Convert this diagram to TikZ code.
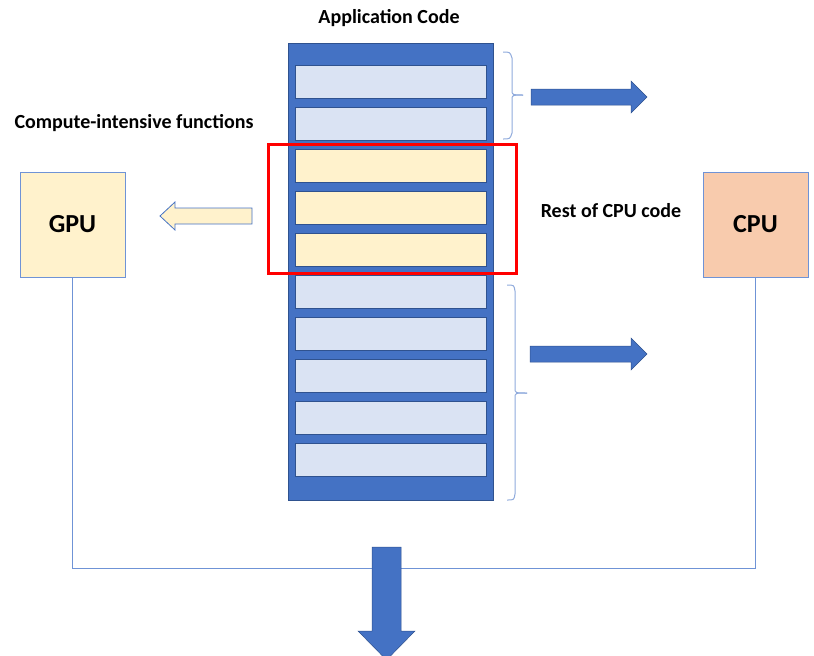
\documentclass[tikz,border=0pt]{standalone}
\usepackage{fontspec}
\setmainfont{Carlito}
\definecolor{mainblue}{HTML}{4472C4}
\definecolor{darkblue}{HTML}{2F528F}
\definecolor{lightblue}{HTML}{DAE3F3}
\definecolor{lightyellow}{HTML}{FFF2CC}
\definecolor{peach}{HTML}{F8CBAD}
\definecolor{bracecol}{HTML}{8FAADC}
\definecolor{linecol}{HTML}{6F93D6}
\begin{document}
\begin{tikzpicture}[x=1pt,y=-1pt,
 codebox/.style={draw=darkblue, line width=0.8pt, fill=lightblue, minimum width=191pt, minimum height=33pt, inner sep=0pt, anchor=north west},
 hotbox/.style={codebox, fill=lightyellow},
 unit/.style={draw=linecol, line width=0.8pt, minimum width=105pt, minimum height=105pt, inner sep=0pt, font=\bfseries\fontsize{26}{31}\selectfont},
 lbl/.style={font=\bfseries\fontsize{20}{24}\selectfont, inner sep=0pt},
 blockarrow/.style={fill=mainblue, draw=darkblue, line width=0.5pt},
 bracestyle/.style={draw=bracecol, line width=1pt},
 link/.style={draw=linecol, line width=0.9pt},
]
\useasboundingbox (0,0) rectangle (814,656);
\clip (0,0) rectangle (814,656);

% application code stack
\node[draw=darkblue, line width=0.8pt, fill=mainblue, minimum width=205pt, minimum height=457pt, inner sep=0pt, anchor=north west] (app) at (288,43) {};
\foreach \i/\s in {0/codebox,1/codebox,2/hotbox,3/hotbox,4/hotbox,5/codebox,6/codebox,7/codebox,8/codebox,9/codebox}
  \node[\s] (b\i) at (295,{65+42*\i}) {};

% red highlight
\node[draw=red, line width=3pt, minimum width=248pt, minimum height=129pt, inner sep=0pt, anchor=north west] (hot) at (267,143) {};

% labels
\node[lbl] (title) at (389,18) {Application Code};
\node[lbl] (cilbl) at (134,123) {Compute-intensive functions};
\node[lbl] (restlbl) at (611,211) {Rest of CPU code};

% processors
\node[unit, fill=lightyellow] (gpu) at (72.5,224.5) {GPU};
\node[unit, fill=peach] (cpu) at (755.5,224.5) {CPU};

% braces
\draw[bracestyle] (503,52) .. controls (510,52) .. (512,58) -- (512,90) .. controls (512,95) .. (523,95);
\draw[bracestyle] (523,95) .. controls (512,95) .. (512,100) -- (512,133) .. controls (510,139) .. (503,139);
\draw[bracestyle] (507,285) .. controls (514,285) .. (515,291) -- (515,388) .. controls (515,393) .. (527,393);
\draw[bracestyle] (527,393) .. controls (515,393) .. (515,398) -- (515,494) .. controls (514,500) .. (507,500);

% block arrows
\draw[blockarrow] (531,89) -- (631,89) -- (631,81) -- (647,97) -- (631,113) -- (631,105) -- (531,105) -- cycle;
\draw[blockarrow] (530,346) -- (631,346) -- (631,338) -- (647,354) -- (631,370) -- (631,362) -- (530,362) -- cycle;
\draw[fill=lightyellow, draw=mainblue, line width=0.8pt] (252,208) -- (175,208) -- (175,202) -- (160,216) -- (175,230) -- (175,224) -- (252,224) -- cycle;

% connector
\coordinate (base) at (400,568);
\draw[link] (gpu.south) -- (gpu.south |- base) -- (cpu.south |- base) -- (cpu.south);

% down arrow
\draw[blockarrow] (372,547) -- (401,547) -- (401,631) -- (415,631) -- (386.5,660) -- (358,631) -- (372,631) -- cycle;
\end{tikzpicture}
\end{document}
